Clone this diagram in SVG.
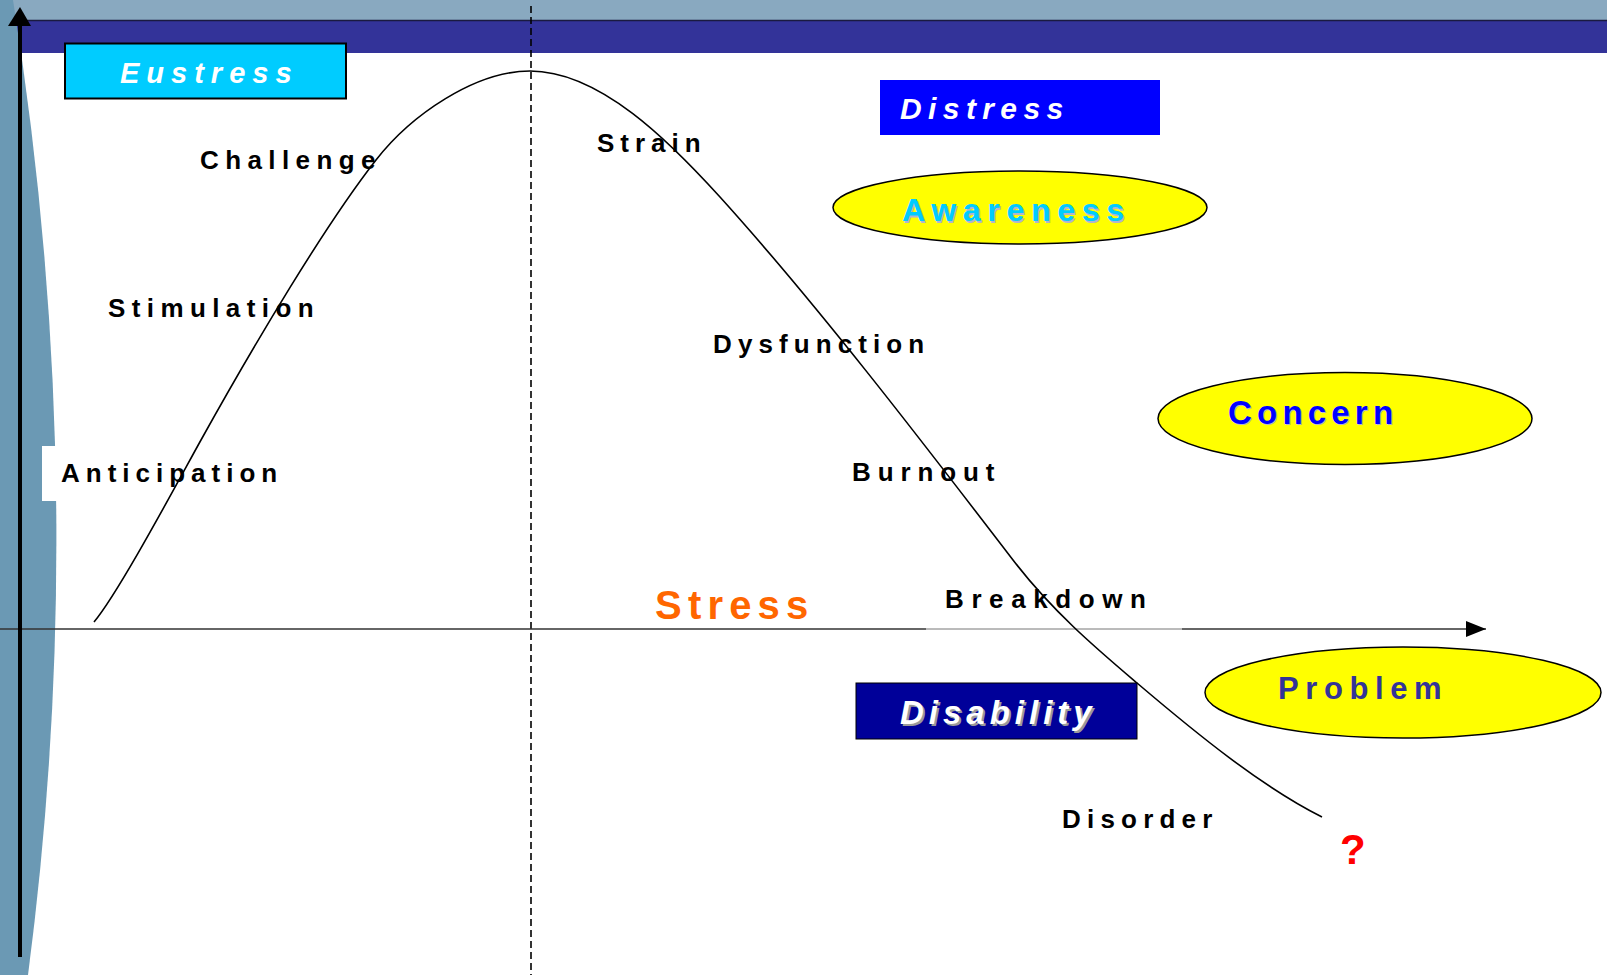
<svg xmlns="http://www.w3.org/2000/svg" width="1607" height="975" viewBox="0 0 1607 975">
<style>
.lbl{font-family:"Liberation Sans",Arial,sans-serif;font-weight:bold;font-size:26px;fill:#000;}
.big{font-family:"Liberation Sans",Arial,sans-serif;font-weight:bold;}
.ell{fill:#FFFF00;stroke:#000;stroke-width:1.5;}
</style>
<defs>
<marker id="ah" viewBox="0 0 20 16" refX="20" refY="8" markerWidth="20" markerHeight="16" markerUnits="userSpaceOnUse" orient="auto">
<path d="M0,0 L20,8 L0,16 Z" fill="#000"/>
</marker>
</defs>
<rect x="0" y="0" width="1607" height="975" fill="#FFFFFF"/>
<g id="background">
<rect x="0" y="0" width="1607" height="21" fill="#89A9C0"/>
<rect x="0" y="21" width="1607" height="32" fill="#333399"/>
<line x1="22" y1="20.5" x2="1607" y2="20.5" stroke="#1a1a40" stroke-width="1.5"/>
<path d="M0,0 L13,0 Q91.5,490 28,975 L0,975 Z" fill="#6B99B4"/>
</g>
<g id="anticipation-bg">
<rect x="42" y="446" width="240" height="55" fill="#FFFFFF"/>
</g>
<g id="connectors">
<line x1="531" y1="6" x2="531" y2="975" stroke="#000" stroke-width="1.6" stroke-dasharray="7,4"/>
<line x1="0" y1="629" x2="926" y2="629" stroke="#333" stroke-width="1.6"/>
<line x1="926" y1="629" x2="1182" y2="629" stroke="#777" stroke-width="1"/>
<line x1="1182" y1="629" x2="1486" y2="629" stroke="#333" stroke-width="1.6" marker-end="url(#ah)"/>
<line x1="20" y1="957" x2="20" y2="20" stroke="#000" stroke-width="4"/>
<polygon points="20,7 8,26 31,26" fill="#000"/>
<path d="M94,622 C119,592 176,485 201,440 C256,341 326,224 376,160 C411,115 475,71 530,71 C600,71 670,142 720,197 C815,302 918,436 1013,560 C1053,612 1097,649 1137,683 C1197,734 1262,787 1322,817" fill="none" stroke="#000" stroke-width="1.6"/>
</g>
<g id="eustress">
<rect x="65" y="43.5" width="281" height="55" fill="#00CCFF" stroke="#000" stroke-width="2"/>
<text x="120" y="83" class="big" font-style="italic" font-size="29" fill="#FFFFFF" letter-spacing="7">Eustress</text>
</g>
<g id="distress">
<rect x="880" y="80" width="280" height="55" fill="#0000FF"/>
<text x="900" y="119" class="big" font-style="italic" font-size="30" fill="#FFFFFF" letter-spacing="6.4">Distress</text>
</g>
<g id="awareness">
<ellipse cx="1020" cy="207.5" rx="187" ry="36.5" class="ell"/>
<text x="903.5" y="222.5" class="big" font-size="32" fill="#B4B4CC" letter-spacing="6.7">Awareness</text>
<text x="902" y="221" class="big" font-size="32" fill="#00CCFF" letter-spacing="6.7">Awareness</text>
</g>
<g id="concern">
<ellipse cx="1345" cy="418.5" rx="187" ry="46" class="ell"/>
<text x="1229" y="425" class="big" font-size="33" fill="#B4B4CC" letter-spacing="5.2">Concern</text>
<text x="1228" y="424" class="big" font-size="33" fill="#0000FF" letter-spacing="5.2">Concern</text>
</g>
<g id="problem">
<ellipse cx="1403" cy="692.5" rx="198" ry="45.5" class="ell"/>
<text x="1278" y="699" class="big" font-size="31" fill="#333399" letter-spacing="6.6">Problem</text>
</g>
<g id="disability">
<rect x="856" y="683" width="281" height="56" fill="#000099" stroke="#000" stroke-width="1"/>
<text x="902" y="726" class="big" font-style="italic" font-size="33" fill="#9A9A9A" letter-spacing="5">Disability</text>
<text x="900" y="724" class="big" font-style="italic" font-size="33" fill="#FFFFFF" letter-spacing="5">Disability</text>
</g>
<g id="stress">
<text x="655" y="619" class="big" font-size="40" fill="#FF6600" letter-spacing="6.2">Stress</text>
</g>
<g id="labels">
<text x="200" y="169" class="lbl" letter-spacing="6.4">Challenge</text>
<text x="108" y="317" class="lbl" letter-spacing="6.4">Stimulation</text>
<text x="61" y="482" class="lbl" letter-spacing="6">Anticipation</text>
<text x="597" y="152" class="lbl" letter-spacing="6">Strain</text>
<text x="713" y="353" class="lbl" letter-spacing="6.1">Dysfunction</text>
<text x="852" y="481" class="lbl" letter-spacing="6.9">Burnout</text>
<text x="945" y="608" class="lbl" letter-spacing="7.6">Breakdown</text>
<text x="1062" y="828" class="lbl" letter-spacing="6.2">Disorder</text>
</g>
<g id="question">
<text x="1340" y="864" class="big" font-size="42" fill="#FF0000">?</text>
</g>
</svg>
